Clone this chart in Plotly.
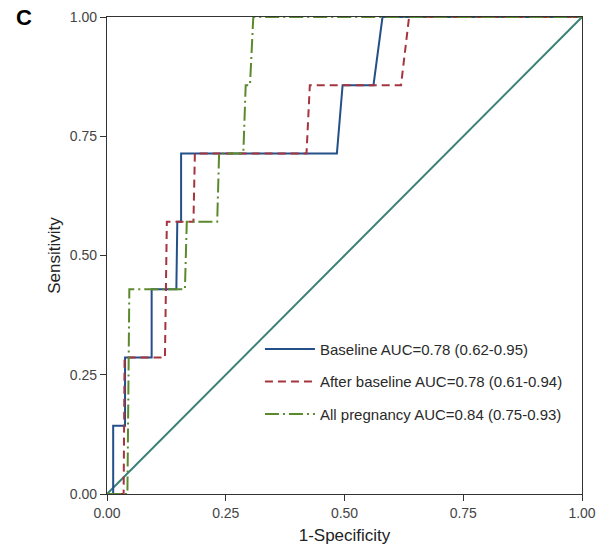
import plotly.graph_objects as go

# Baseline ROC
base_fpr = [0.0, 0.013, 0.013, 0.038, 0.038, 0.094, 0.094, 0.146, 0.148, 0.156, 0.156, 0.484, 0.496, 0.561, 0.580, 1.0]
base_tpr = [0.0, 0.0, 0.143, 0.143, 0.286, 0.286, 0.429, 0.429, 0.571, 0.571, 0.714, 0.714, 0.857, 0.857, 1.0, 1.0]
# After baseline ROC
after_fpr = [0.0, 0.035, 0.037, 0.122, 0.126, 0.182, 0.185, 0.420, 0.427, 0.619, 0.636, 1.0]
after_tpr = [0.0, 0.0, 0.286, 0.286, 0.571, 0.571, 0.714, 0.714, 0.857, 0.857, 1.0, 1.0]
# All pregnancy ROC
all_fpr = [0.0, 0.043, 0.047, 0.164, 0.168, 0.232, 0.236, 0.287, 0.292, 0.301, 0.308, 1.0]
all_tpr = [0.0, 0.0, 0.429, 0.429, 0.571, 0.571, 0.714, 0.714, 0.857, 0.857, 1.0, 1.0]
ref_x = [0.0, 1.0]
ref_y = [0.0, 1.0]

names = ["Baseline AUC=0.78 (0.62-0.95)",
         "After baseline AUC=0.78 (0.61-0.94)",
         "All pregnancy AUC=0.84 (0.75-0.93)"]
ticks = [0.0, 0.25, 0.5, 0.75, 1.0]
tick_text = ["0.00", "0.25", "0.50", "0.75", "1.00"]

FONT = "Liberation Sans, Arial"

fig = go.Figure()
fig.add_trace(go.Scatter(x=ref_x, y=ref_y, mode="lines", showlegend=False,
                         line=dict(color="#3b8077", width=2)))
fig.add_trace(go.Scatter(x=base_fpr, y=base_tpr, mode="lines", name=names[0], legendgroup="a",
                         line=dict(color="#24508a", width=2)))
fig.add_trace(go.Scatter(x=after_fpr, y=after_tpr, mode="lines", name=names[1], legendgroup="b",
                         line=dict(color="#a5343f", width=2, dash="8px,5px")))
fig.add_trace(go.Scatter(x=all_fpr, y=all_tpr, mode="lines", name=names[2], legendgroup="c",
                         line=dict(color="#5b8a2c", width=2, dash="14px,4px,2px,4px")))

axis_common = dict(range=[0, 1], tickvals=ticks, ticktext=tick_text, showgrid=False, zeroline=False,
                   showline=True, linecolor="#333333", linewidth=1.2, mirror=True,
                   ticks="outside", ticklen=6, tickcolor="#333333", automargin=False,
                   tickfont=dict(family=FONT, size=14, color="#444444"))
fig.update_xaxes(**axis_common, title=dict(text="1-Specificity", standoff=22,
                 font=dict(family=FONT, size=17, color="#222222")))
fig.update_yaxes(**axis_common, title=dict(text="Sensitivity", standoff=4,
                 font=dict(family=FONT, size=17, color="#222222")))

fig.update_layout(
    width=601, height=545,
    margin=dict(l=107, r=19, t=17, b=51),
    plot_bgcolor="white", paper_bgcolor="white",
    font=dict(family=FONT, size=14, color="#333333"),
    legend=dict(x=0.322, y=0.338, xanchor="left", yanchor="top", bgcolor="rgba(0,0,0,0)",
                traceorder="grouped", tracegroupgap=10, itemwidth=50,
                font=dict(family=FONT, size=15, color="#2a2a2a")),
    annotations=[dict(text="<b>C</b>", x=-0.195, y=1.0, xref="paper", yref="paper", showarrow=False,
                      xanchor="left", yanchor="middle", font=dict(family=FONT, size=22, color="black"))],
)
fig.write_html("out.html")
